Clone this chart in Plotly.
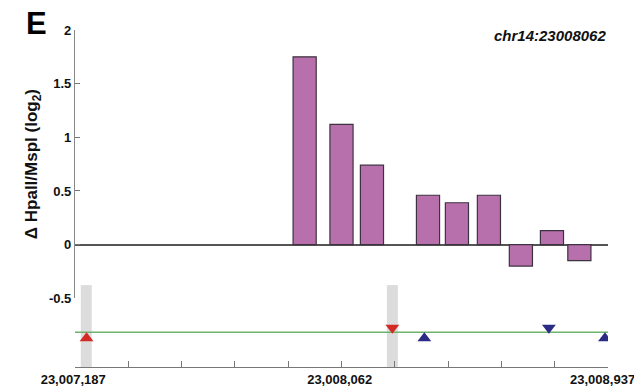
import plotly.graph_objects as go

# ---- data ----
x_start = 23007187
x_mid = 23008062
x_end = 23008937
tick_positions = [x_start + i * 175 for i in range(11)]
tick_labels = ["23,007,187\u00a0", "", "", "", "", "23,008,062\u00a0", "", "", "", "", "23,008,937\u00a0\u00a0\u00a0"]

bar_pos = [23007941, 23008062, 23008162, 23008346, 23008441, 23008546, 23008651, 23008753, 23008843]
bar_val = [1.75, 1.12, 0.74, 0.46, 0.39, 0.46, -0.20, 0.13, -0.15]
bar_width_bp = 76

gray_pos = [23007224, 23008229]
gray_width_bp = 36

up_red_pos = [23007225]
down_red_pos = [23008229]
up_blue_pos = [23008334, 23008927]
down_blue_pos = [23008743]

y_ticks = [-0.5, 0, 0.5, 1, 1.5, 2]
y_ticklabels = ["-0.5", "0", "0.5", "1", "1.5", "2"]

track_line = 0.425
track_up = 0.35
track_down = 0.48

FONT = "Liberation Sans, Arial, sans-serif"

fig = go.Figure()

# gray highlight bars in bottom track
fig.add_trace(go.Bar(
    x=gray_pos, y=[1] * len(gray_pos), width=[gray_width_bp] * len(gray_pos),
    marker=dict(color="#dcdcdc", line=dict(width=0)),
    xaxis="x", yaxis="y2", showlegend=False, hoverinfo="skip"))

# green line
fig.add_trace(go.Scatter(
    x=[x_start, x_end], y=[track_line, track_line], mode="lines",
    line=dict(color="#6db36d", width=1.5), xaxis="x", yaxis="y2", showlegend=False))

# triangles
tri = dict(size=12)
fig.add_trace(go.Scatter(x=up_red_pos, y=[track_up] * len(up_red_pos), mode="markers",
    marker=dict(symbol="triangle-up", color="#d42a26", **tri), xaxis="x", yaxis="y2", showlegend=False))
fig.add_trace(go.Scatter(x=down_red_pos, y=[track_down] * len(down_red_pos), mode="markers",
    marker=dict(symbol="triangle-down", color="#d42a26", **tri), xaxis="x", yaxis="y2", showlegend=False))
fig.add_trace(go.Scatter(x=up_blue_pos, y=[track_up] * len(up_blue_pos), mode="markers",
    marker=dict(symbol="triangle-up", color="#2b2a85", **tri), xaxis="x", yaxis="y2", showlegend=False))
fig.add_trace(go.Scatter(x=down_blue_pos, y=[track_down] * len(down_blue_pos), mode="markers",
    marker=dict(symbol="triangle-down", color="#2b2a85", **tri), xaxis="x", yaxis="y2", showlegend=False))

# methylation bars
fig.add_trace(go.Bar(
    x=bar_pos, y=bar_val, width=[bar_width_bp] * len(bar_pos),
    marker=dict(color="#b770ab", line=dict(color="#3d3340", width=1.2)),
    xaxis="x", yaxis="y", showlegend=False))

# page body has an 8px default margin, so the figure is sized to fit the window
fig.update_layout(
    width=634, height=384,
    margin=dict(l=67, r=34, t=22, b=25),
    plot_bgcolor="white", paper_bgcolor="white",
    barmode="overlay",
    font=dict(family=FONT, size=13, color="#111111"),
    xaxis=dict(
        range=[x_start, x_end], anchor="y2", automargin=False,
        tickvals=tick_positions, ticktext=tick_labels, ticklabeloverflow="allow",
        ticks="inside", ticklen=6, tickcolor="#777777", tickwidth=1,
        showline=True, linecolor="#777777", linewidth=1.2,
        showgrid=False, zeroline=False,
        tickfont=dict(family=FONT, size=13, color="#111111", weight="bold"),
    ),
    yaxis=dict(
        domain=[0.204, 1], range=[-0.5, 2], anchor="x", automargin=False,
        tickvals=y_ticks, ticktext=y_ticklabels,
        ticks="inside", ticklen=5, tickcolor="#777777",
        showline=True, linecolor="#888888", linewidth=1.2,
        showgrid=False,
        zeroline=True, zerolinecolor="#555555", zerolinewidth=1.5,
        tickfont=dict(family=FONT, size=13, color="#111111", weight="bold"),
        title=dict(text="Δ HpaII/MspI (log<sub>2</sub>)",
                   font=dict(family=FONT, size=17, color="#111111", weight="bold"),
                   standoff=6),
    ),
    yaxis2=dict(
        domain=[0, 0.243], range=[0, 1], anchor="x", automargin=False,
        showline=False, showticklabels=False, ticks="",
        showgrid=False, zeroline=False,
    ),
    annotations=[
        dict(text="E", xref="paper", yref="paper", x=-0.073, y=1.02, xanchor="center", yanchor="middle",
             showarrow=False, borderpad=0,
             font=dict(family=FONT, size=31, color="#000000", weight="bold")),
        dict(text="<i>chr14:23008062</i>", xref="paper", yref="paper", x=1.0, y=0.985,
             xanchor="right", yanchor="middle", showarrow=False,
             font=dict(family=FONT, size=15, color="#111111", weight="bold")),
    ],
)

fig.write_html("out.html")
